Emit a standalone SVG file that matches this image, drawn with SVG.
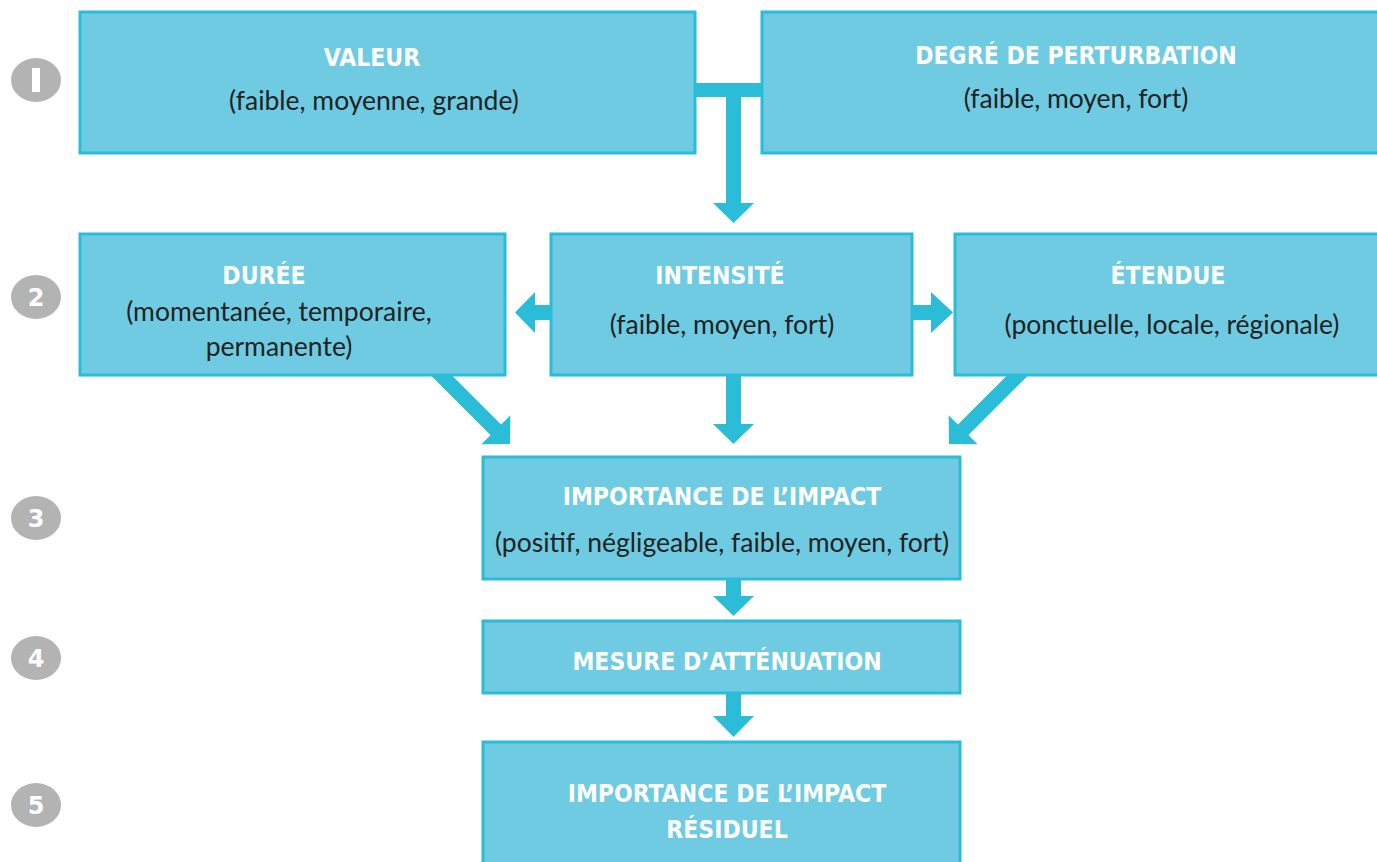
<svg xmlns="http://www.w3.org/2000/svg" width="1377" height="862" viewBox="0 0 1377 862">
<style>
.box{fill:#6ecbe2;stroke:#2bbcd8;stroke-width:3}
.t{font-family:"DejaVu Sans Condensed","DejaVu Sans",sans-serif;font-weight:bold;font-stretch:condensed;font-size:24.5px;fill:#ffffff;text-anchor:middle}
.s{font-family:"Lato","Open Sans",sans-serif;font-size:26.5px;fill:#222222;text-anchor:middle}
.num{fill:#b3b3b3}
.nt{font-family:"DejaVu Sans",sans-serif;font-weight:bold;font-size:24px;fill:#ffffff;text-anchor:middle}
.arr{fill:#2bbcd8}
</style>
<defs>
<g id="diag"><rect x="-7.5" y="-110" width="15" height="92"/><polygon points="-20.5,-20 20.5,-20 0,0"/></g>
</defs>
<g id="steps">
<ellipse class="num" cx="36" cy="80" rx="25" ry="22"/><rect x="32" y="68" width="8" height="24" fill="#fff"/>
<ellipse class="num" cx="36" cy="297" rx="25" ry="22"/><text class="nt" x="36" y="306">2</text>
<ellipse class="num" cx="36" cy="518" rx="25" ry="22"/><text class="nt" x="36" y="527">3</text>
<ellipse class="num" cx="36" cy="658" rx="25" ry="22"/><text class="nt" x="36" y="667">4</text>
<ellipse class="num" cx="36" cy="805" rx="25" ry="22"/><text class="nt" x="36" y="814">5</text>
</g>
<g id="connectors">
<rect class="arr" x="695" y="83" width="67" height="14"/>
<rect class="arr" x="726" y="97" width="15" height="107"/>
<polygon class="arr" points="713,203 754,203 733.5,223"/>
<rect class="arr" x="533" y="305" width="18" height="15"/>
<polygon class="arr" points="535,292 535,333 515,312.5"/>
<rect class="arr" x="912" y="305" width="20" height="15"/>
<polygon class="arr" points="931,292 931,333 953,312.5"/>
<rect class="arr" x="726" y="375" width="15" height="50"/>
<polygon class="arr" points="713,424 754,424 733.5,444"/>
<use href="#diag" class="arr" transform="translate(510,444) rotate(-45)"/>
<use href="#diag" class="arr" transform="translate(949,444) rotate(45)"/>
<rect class="arr" x="726" y="579" width="15" height="18"/>
<polygon class="arr" points="713,596 754,596 733.5,616"/>
<rect class="arr" x="726" y="693" width="15" height="24"/>
<polygon class="arr" points="713,716 754,716 733.5,737"/>
</g>
<g id="valeur"><rect class="box" x="80" y="12" width="615" height="141"/><text class="t" x="372" y="66">VALEUR</text><text class="s" x="374" y="110">(faible, moyenne, grande)</text></g>
<g id="degre"><rect class="box" x="762" y="12" width="620" height="141"/><text class="t" x="1076" y="64">DEGRÉ DE PERTURBATION</text><text class="s" x="1076" y="108">(faible, moyen, fort)</text></g>
<g id="duree"><rect class="box" x="80" y="234" width="425" height="141"/><text class="t" x="264" y="284">DURÉE</text><text class="s" x="279" y="321">(momentanée, temporaire,</text><text class="s" x="279" y="356">permanente)</text></g>
<g id="intensite"><rect class="box" x="551" y="234" width="361" height="141"/><text class="t" x="720" y="284">INTENSITÉ</text><text class="s" x="722" y="334">(faible, moyen, fort)</text></g>
<g id="etendue"><rect class="box" x="955" y="234" width="427" height="141"/><text class="t" x="1168" y="284">ÉTENDUE</text><text class="s" x="1172" y="334">(ponctuelle, locale, régionale)</text></g>
<g id="importance"><rect class="box" x="483" y="457" width="477" height="122"/><text class="t" x="722" y="505">IMPORTANCE DE L’IMPACT</text><text class="s" x="722" y="552">(positif, négligeable, faible, moyen, fort)</text></g>
<g id="mesure"><rect class="box" x="483" y="621" width="477" height="72"/><text class="t" x="727" y="670">MESURE D’ATTÉNUATION</text></g>
<g id="residuel"><rect class="box" x="483" y="742" width="477" height="125"/><text class="t" x="727" y="802">IMPORTANCE DE L’IMPACT</text><text class="t" x="727" y="838">RÉSIDUEL</text></g>
</svg>
